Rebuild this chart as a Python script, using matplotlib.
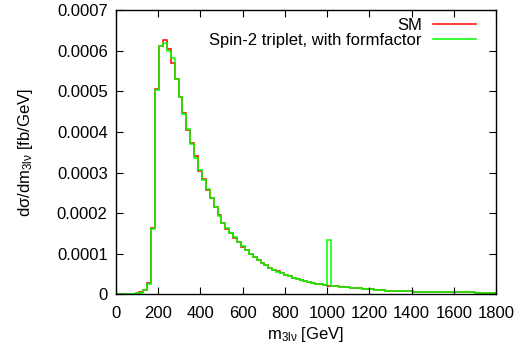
import numpy as np
import matplotlib
matplotlib.use("Agg")
import matplotlib.pyplot as plt

plt.rcParams["font.family"] = ["Liberation Sans", "DejaVu Sans"]
plt.rcParams["mathtext.fontset"] = "custom"
plt.rcParams["mathtext.rm"] = "Liberation Sans"
plt.rcParams["mathtext.default"] = "regular"

# Histogram binning in m_3lv [GeV]
bin_start = 0.0
bin_width = 18.5

# dsigma/dm_3lv [fb/GeV] per bin, Standard Model
sm = [
    0.0, 0.0, 0.5e-6, 1.0e-6, 2.0e-6, 3.0e-6, 5.0e-6, 12e-6, 29e-6, 163e-6,
    505e-6, 612e-6, 626e-6, 604e-6, 569e-6, 531e-6, 487e-6, 446e-6, 405e-6, 372e-6,
    340e-6, 305e-6, 283e-6, 258e-6, 238e-6, 215e-6, 195e-6, 177e-6, 162e-6, 152e-6,
    140e-6, 129e-6, 118e-6, 109e-6, 100e-6, 92e-6, 84e-6, 78e-6, 72e-6, 66e-6,
    61e-6, 57e-6, 52e-6, 49e-6, 45e-6, 41e-6, 38.5e-6, 36e-6, 33.5e-6, 31e-6,
    29e-6, 27e-6, 25e-6, 23.5e-6, 22e-6, 20.8e-6, 19.9e-6, 19.0e-6, 18.0e-6, 17.2e-6,
    16.4e-6, 15.6e-6, 14.8e-6, 14.0e-6, 13.1e-6, 12.3e-6, 11.6e-6, 10.9e-6, 10.2e-6, 9.6e-6,
    9.0e-6, 8.6e-6, 8.2e-6, 8.0e-6, 7.7e-6, 7.5e-6, 7.3e-6, 7.1e-6, 6.9e-6, 6.7e-6,
    6.5e-6, 6.3e-6, 6.2e-6, 6.0e-6, 5.8e-6, 5.7e-6, 5.6e-6, 5.4e-6, 5.3e-6, 5.2e-6,
    5.0e-6, 4.9e-6, 4.7e-6, 4.6e-6, 4.5e-6, 4.4e-6, 4.3e-6, 4.2e-6,
]

# Spin-2 triplet with formfactor (resonance near 1 TeV)
spin2 = [
    0.0, 0.0, 0.4e-6, 0.9e-6, 1.8e-6, 2.8e-6, 4.5e-6, 12e-6, 25e-6, 160e-6,
    503e-6, 612e-6, 620e-6, 600e-6, 581e-6, 530e-6, 487e-6, 444e-6, 407e-6, 370e-6,
    337e-6, 307e-6, 282e-6, 260e-6, 237e-6, 215e-6, 194e-6, 176e-6, 163e-6, 152e-6,
    141e-6, 128e-6, 119e-6, 109e-6, 100e-6, 91.7e-6, 84.3e-6, 77.8e-6, 72e-6, 66.3e-6,
    61.4e-6, 56.5e-6, 52.4e-6, 49.1e-6, 45e-6, 40.9e-6, 38.5e-6, 36e-6, 33.6e-6, 31.1e-6,
    29e-6, 27e-6, 25.2e-6, 23.5e-6, 134e-6, 20.8e-6, 19.9e-6, 19.0e-6, 18.1e-6, 17.2e-6,
    16.4e-6, 15.6e-6, 14.8e-6, 14.0e-6, 13.1e-6, 12.3e-6, 11.6e-6, 10.9e-6, 10.2e-6, 9.6e-6,
    9.0e-6, 8.6e-6, 8.2e-6, 8.0e-6, 7.7e-6, 7.5e-6, 7.3e-6, 7.1e-6, 6.9e-6, 6.7e-6,
    6.5e-6, 6.3e-6, 6.2e-6, 6.0e-6, 5.8e-6, 5.7e-6, 5.6e-6, 5.4e-6, 5.3e-6, 5.2e-6,
    5.0e-6, 4.9e-6, 4.7e-6, 4.6e-6, 4.5e-6, 4.4e-6, 4.3e-6, 4.2e-6,
]

x_ticks = [0, 200, 400, 600, 800, 1000, 1200, 1400, 1600, 1800]
y_ticks = [0, 0.0001, 0.0002, 0.0003, 0.0004, 0.0005, 0.0006, 0.0007]
y_tick_labels = ["0", "0.0001", "0.0002", "0.0003", "0.0004", "0.0005", "0.0006", "0.0007"]

edges = bin_start + bin_width * np.arange(len(sm) + 1)

fig = plt.figure(figsize=(5.17, 3.51), dpi=100)
ax = fig.add_axes([0.2244, 0.161, 0.735, 0.8105])

ax.stairs(sm, edges, color="#ff0000", linewidth=1.1, label="SM")
ax.stairs(spin2, edges, color="#00ff00", linewidth=1.1,
          label="Spin-2 triplet, with formfactor")

ax.set_xlim(0, 1800)
ax.set_ylim(0, 0.0007)
ax.set_xticks(x_ticks)
ax.set_yticks(y_ticks)
ax.set_yticklabels(y_tick_labels)

ax.tick_params(axis="both", which="both", direction="in", length=5, width=0.8,
               top=True, right=True, labelsize=12, colors="black")
ax.tick_params(axis="x", pad=8)
ax.tick_params(axis="y", pad=6)
for sp in ax.spines.values():
    sp.set_linewidth(1.0)

ax.set_xlabel("m$_{3l\u03bd}$ [GeV]", fontsize=12, labelpad=3)
ax.set_ylabel("d\u03c3/dm$_{3l\u03bd}$ [fb/GeV]", fontsize=12, labelpad=16)

leg = ax.legend(loc="upper right", markerfirst=False, frameon=False, fontsize=12,
                handlelength=2.6, handletextpad=0.65, labelspacing=0.0,
                borderaxespad=0.0, bbox_to_anchor=(0.965, 0.997))

fig.savefig("out.png", dpi=100)
